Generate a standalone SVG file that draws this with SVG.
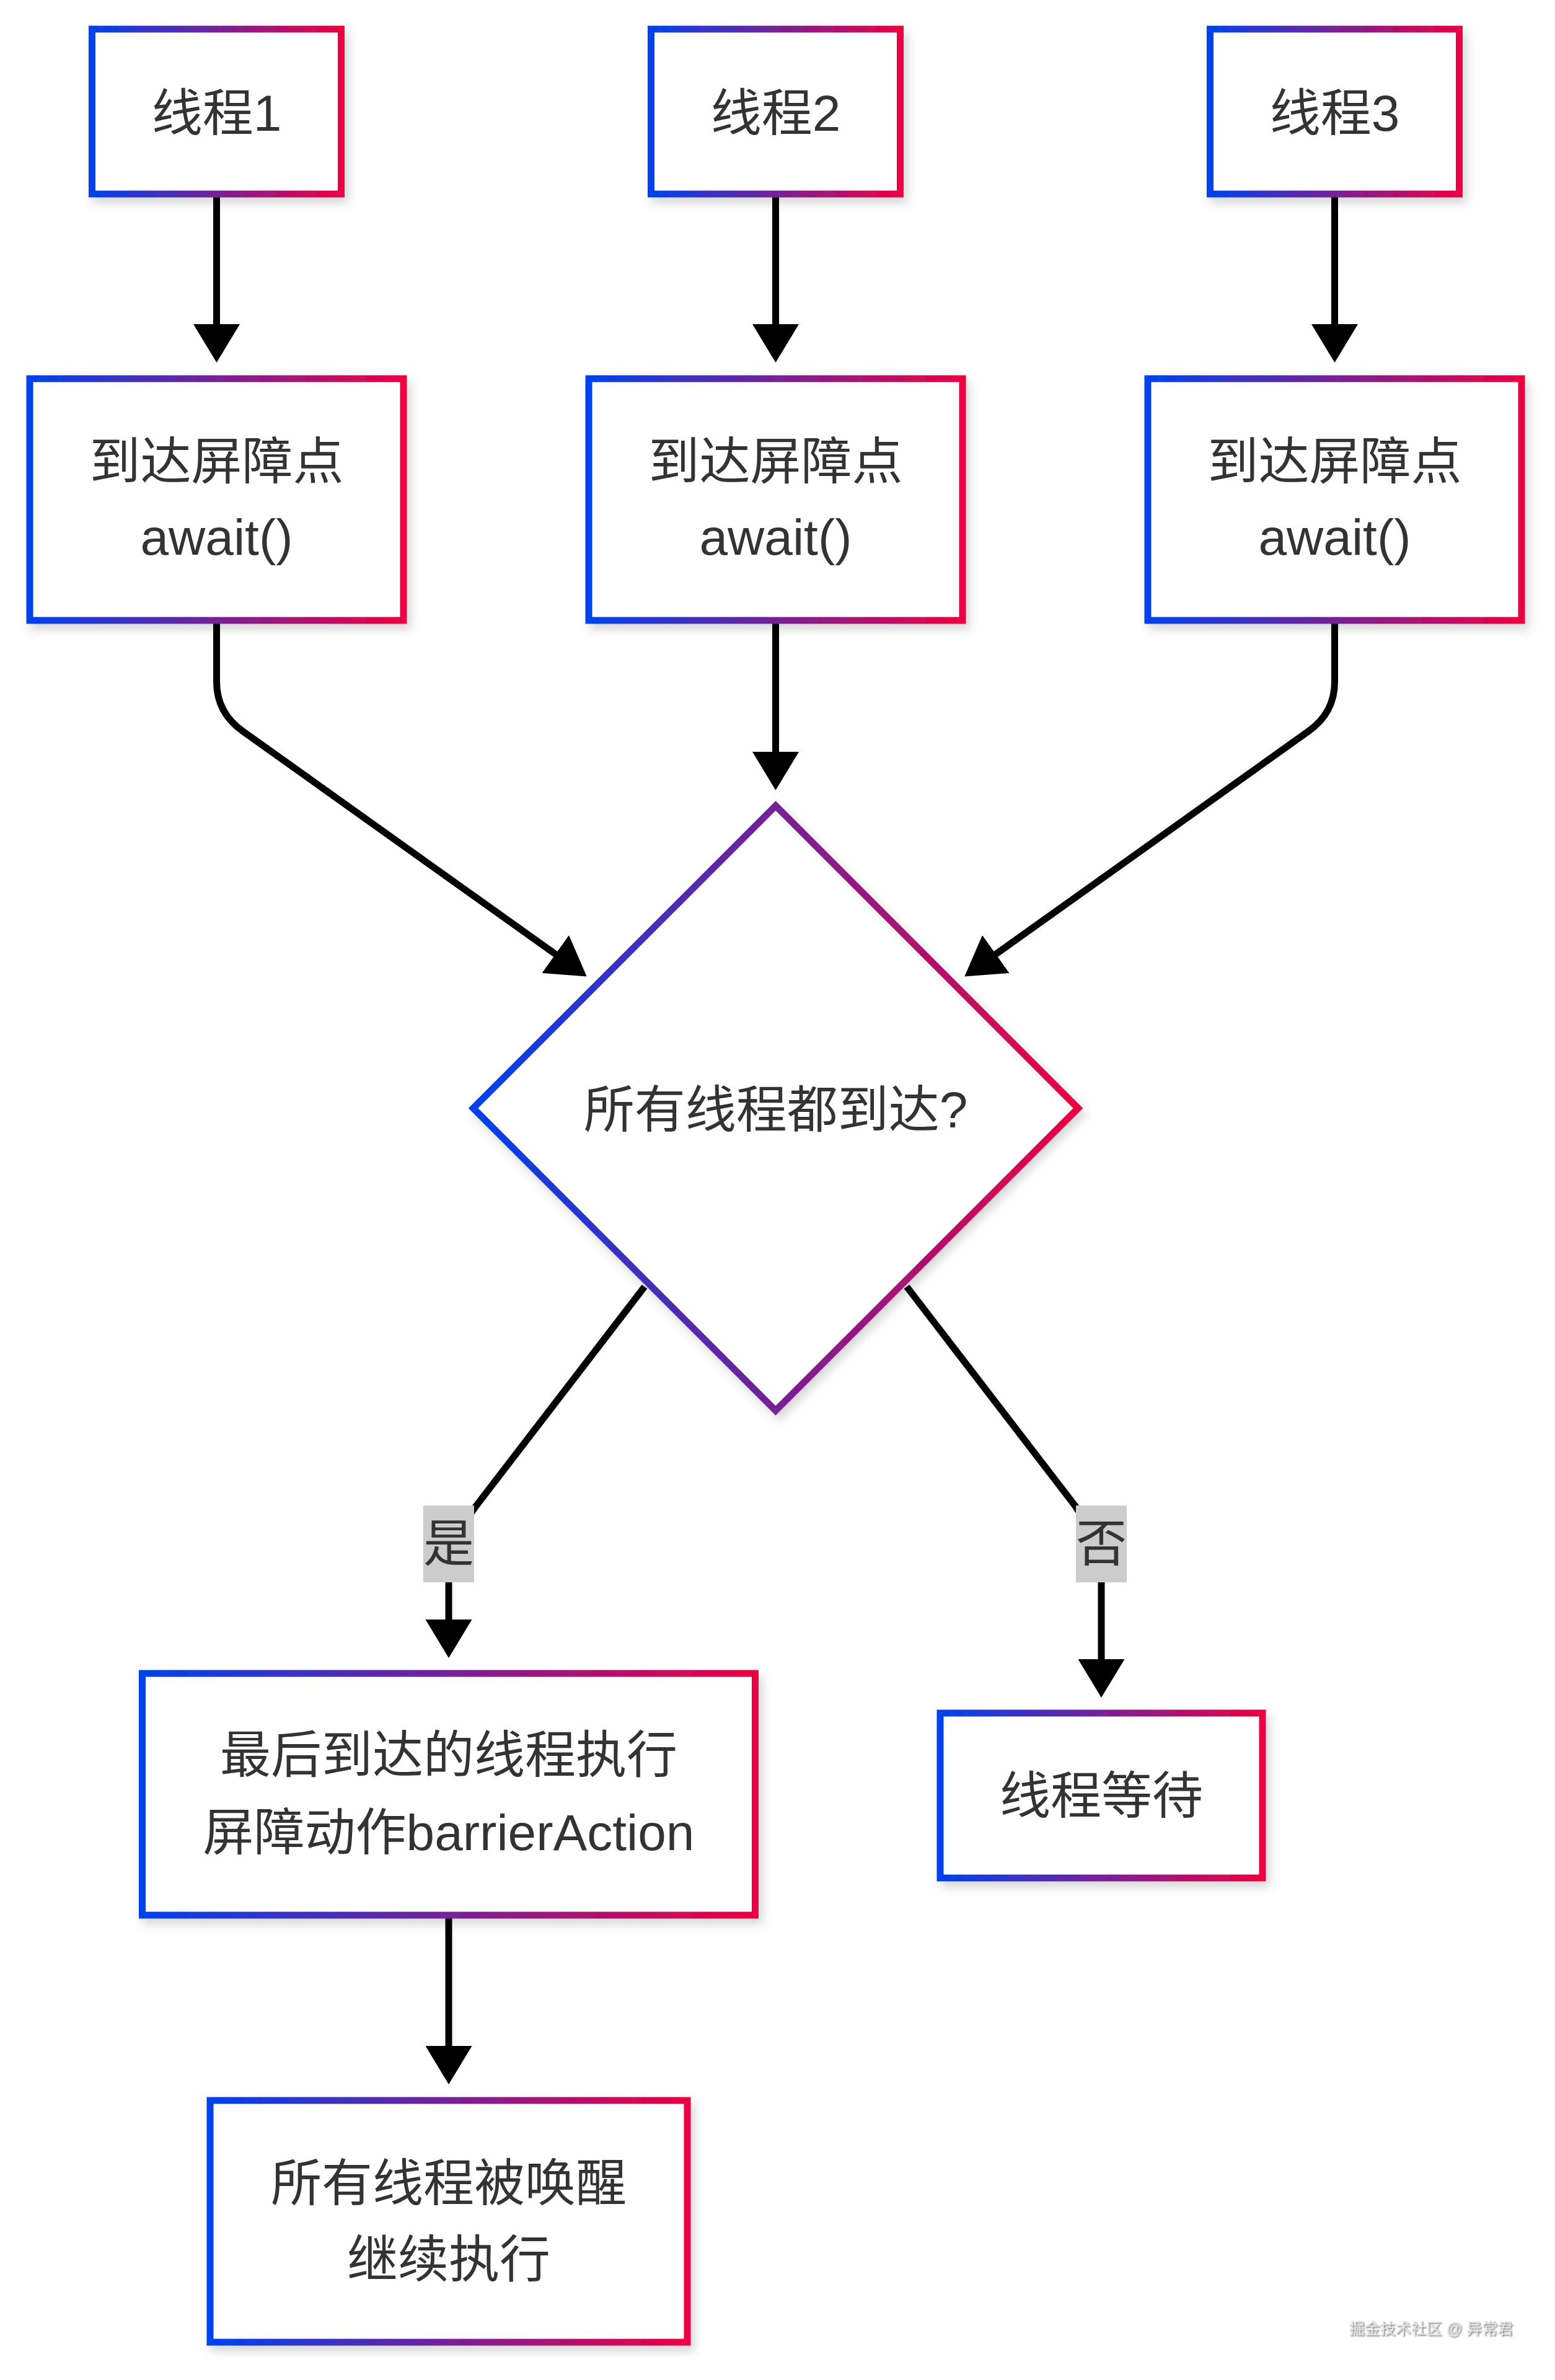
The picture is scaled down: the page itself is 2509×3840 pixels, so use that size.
<svg xmlns="http://www.w3.org/2000/svg" width="2509" height="3840" viewBox="0 0 2509 3840">
<defs>
<linearGradient id="g" x1="0" y1="0" x2="1" y2="0">
<stop offset="0" stop-color="#0042eb"/>
<stop offset="1" stop-color="#eb0042"/>
</linearGradient>
<filter id="sh" x="-10%" y="-10%" width="130%" height="130%">
<feDropShadow dx="6" dy="9" stdDeviation="8" flood-color="#000" flood-opacity="0.16"/>
</filter>
<filter id="wm" x="-5%" y="-20%" width="110%" height="150%">
<feDropShadow dx="1.5" dy="1.5" stdDeviation="0.8" flood-color="#555" flood-opacity="0.9"/>
</filter>
<marker id="ah" markerUnits="userSpaceOnUse" markerWidth="64" markerHeight="76" refX="1" refY="37.5" orient="auto" viewBox="0 0 64 76">
<path d="M0,0 L62,37.5 L0,75 z" fill="#000"/>
</marker>
</defs>
<style>
.node{fill:#fff;stroke:url(#g);stroke-width:11;filter:url(#sh)}
.t{font-family:"Liberation Sans","Noto Sans CJK SC",sans-serif;font-size:82px;fill:#333;text-anchor:middle}
.e{fill:none;stroke:#000;stroke-width:11;marker-end:url(#ah)}
.lb{fill:#cccccc}
</style>
<rect width="2509" height="3840" fill="#fff"/>
<g id="connectors">
<path class="e" d="M349.5,313 L349.5,524"/>
<path class="e" d="M1251.5,313 L1251.5,524"/>
<path class="e" d="M2153.5,313 L2153.5,524"/>
<path class="e" d="M349.5,1001 L349.5,1100 Q349.5,1150 392,1180 L897,1540"/>
<path class="e" d="M1251.5,1001 L1251.5,1214"/>
<path class="e" d="M2153.5,1001 L2153.5,1100 Q2153.5,1150 2111,1180 L1606,1540"/>
<path class="e" d="M1040,2076 L768,2430 Q724,2490 724,2552 L724,2614"/>
<path class="e" d="M1463,2076 L1735,2430 Q1777,2490 1777,2552 L1777,2678"/>
<path class="e" d="M724,3090 L724,3302"/>
<g id="label-yes">
<rect class="lb" x="683" y="2429" width="82" height="124"/>
<text class="t" x="724" y="2519">是</text>
</g>
<g id="label-no">
<rect class="lb" x="1736" y="2429" width="82" height="124"/>
<text class="t" x="1777" y="2519">否</text>
</g>
</g>
<g id="t1">
<rect class="node" x="148.5" y="47" width="402" height="266"/>
<text class="t" x="349.5" y="211">线程1</text>
</g>
<g id="t2">
<rect class="node" x="1050.5" y="47" width="402" height="266"/>
<text class="t" x="1251.5" y="211">线程2</text>
</g>
<g id="t3">
<rect class="node" x="1952.5" y="47" width="402" height="266"/>
<text class="t" x="2153.5" y="211">线程3</text>
</g>
<g id="a1">
<rect class="node" x="48" y="611" width="603" height="390"/>
<text class="t" x="349.5" y="773">到达屏障点</text>
<text class="t" x="349.5" y="895">await()</text>
</g>
<g id="a2">
<rect class="node" x="950" y="611" width="603" height="390"/>
<text class="t" x="1251.5" y="773">到达屏障点</text>
<text class="t" x="1251.5" y="895">await()</text>
</g>
<g id="a3">
<rect class="node" x="1852" y="611" width="603" height="390"/>
<text class="t" x="2153.5" y="773">到达屏障点</text>
<text class="t" x="2153.5" y="895">await()</text>
</g>
<g id="decision">
<polygon class="node" points="1251.5,1300 1739.5,1788 1251.5,2276 763.5,1788"/>
<text class="t" x="1251.5" y="1819">所有线程都到达?</text>
</g>
<g id="action">
<rect class="node" x="229.5" y="2700" width="989" height="390"/>
<text class="t" x="724" y="2860">最后到达的线程执行</text>
<text class="t" x="724" y="2985">屏障动作barrierAction</text>
</g>
<g id="wait">
<rect class="node" x="1517" y="2764" width="520" height="266"/>
<text class="t" x="1777" y="2926">线程等待</text>
</g>
<g id="wake">
<rect class="node" x="339" y="3389" width="770" height="390"/>
<text class="t" x="724" y="3551">所有线程被唤醒</text>
<text class="t" x="724" y="3674">继续执行</text>
</g>
<text x="2309" y="3766" font-family="Liberation Sans,'Noto Sans CJK SC',sans-serif" font-size="25" fill="#e4e4e4" text-anchor="middle" filter="url(#wm)">掘金技术社区 @ 异常君</text>
</svg>
